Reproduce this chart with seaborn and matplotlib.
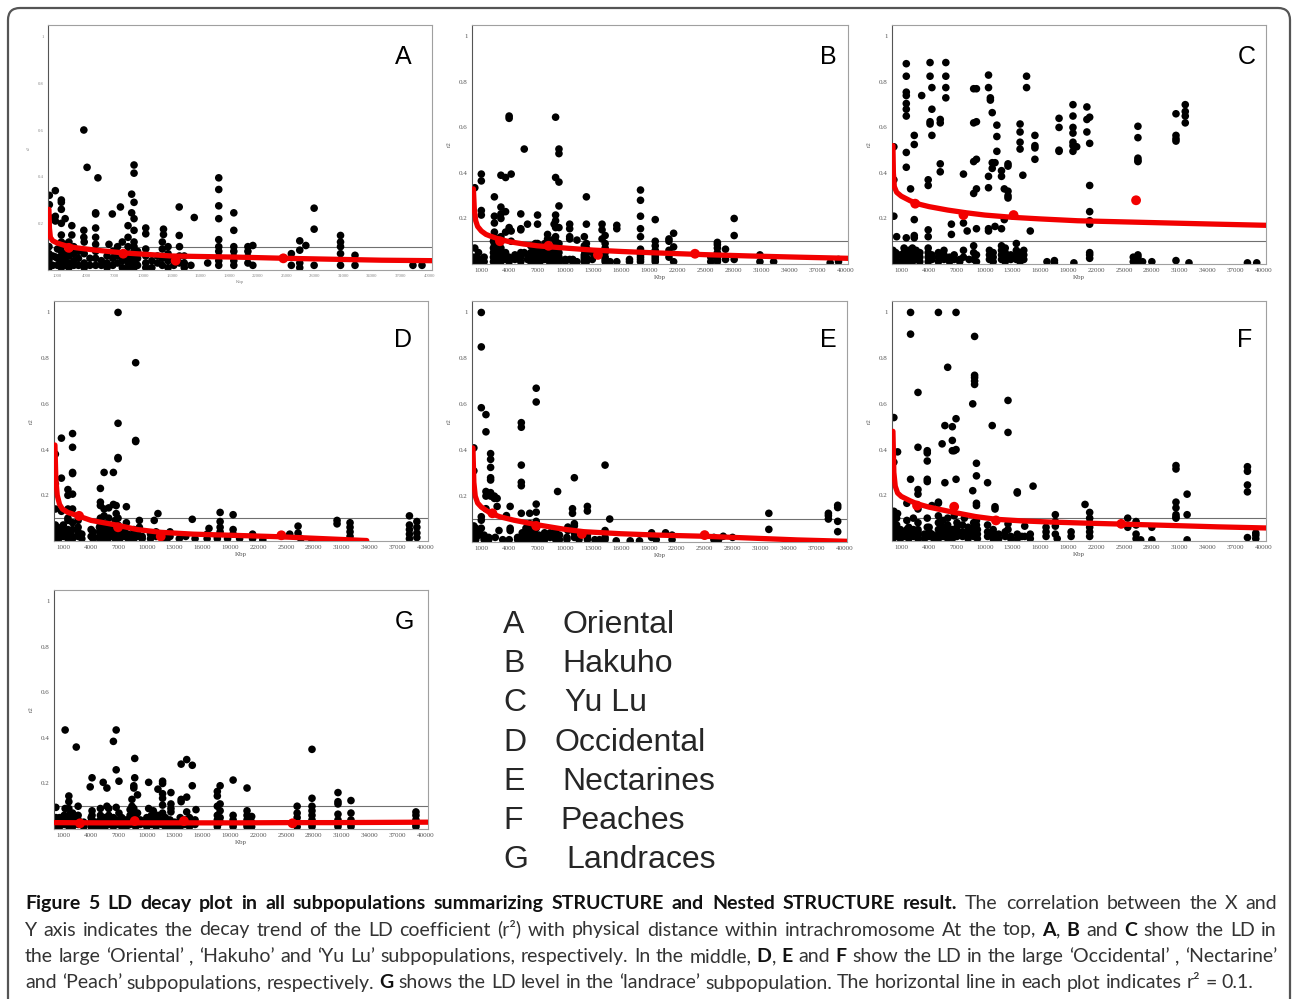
import pandas as pd
import matplotlib
matplotlib.use("Agg")
import matplotlib.pyplot as plt
import seaborn as sns
from matplotlib.ticker import MultipleLocator
from matplotlib.patches import FancyBboxPatch

# ---------------------------------------------------------------- data
panel_letters = ["A", "B", "C", "D", "E", "F", "G"]
subpop_names = ["Oriental", "Hakuho", "Yu Lu", "Occidental", "Nectarines", "Peaches", "Landraces"]
xtick_vals = [1000, 4000, 7000, 10000, 13000, 16000, 19000, 22000, 25000,
              28000, 31000, 34000, 37000, 40000]
ytick_vals = [0.2, 0.4, 0.6, 0.8, 1.0]
ytick_labels = ["0.2", "0.4", "0.6", "0.8", "1"]
r2_line = 0.1

# A  Oriental : x positions (Kbp) and the r2 values stacked at each position
a_x = [100, 140, 500, 770, 1000, 1400, 1800, 2200, 2500, 2700, 3200, 3760, 3800, 4100, 4400,
       5000, 5240, 5600, 6200, 6400, 6750, 6800, 7300, 7600, 7800, 8400, 8780, 9030, 9400,
       10260, 10900, 11500, 12000, 12120, 12600, 13200, 13770, 13800, 14300, 15000, 15350,
       16760, 17920, 19500, 20980, 21500, 25540, 26420, 27060, 27930, 30700, 32220, 38300, 39250]
a_y = [[0.1, 0.07, 0.04, 0.01], [0.32, 0.28, 0.225, 0.02], [0.06, 0.02], [0.34, 0.23, 0.21, 0.056],
       [0.09, 0.05, 0.02], [0.3, 0.29, 0.26, 0.2, 0.15, 0.12, 0.1, 0.08, 0.06, 0.04, 0.02, 0.01],
       [0.22, 0.11, 0.07, 0.04, 0.02], [0.12, 0.09, 0.06, 0.03, 0.01], [0.19, 0.15],
       [0.1, 0.07, 0.04, 0.02], [0.08, 0.05, 0.02], [0.6, 0.17, 0.14], [0.12, 0.07, 0.03, 0.01],
       [0.44], [0.05, 0.02], [0.245, 0.24, 0.18, 0.14, 0.11, 0.08, 0.05, 0.02], [0.395],
       [0.04, 0.02], [0.06, 0.03, 0.01], [0.11], [0.24], [0.08, 0.05, 0.02], [0.1, 0.06, 0.03],
       [0.27], [0.12, 0.07, 0.04, 0.01], [0.19, 0.14, 0.1, 0.07, 0.05, 0.03, 0.01], [0.325, 0.245],
       [0.45, 0.415, 0.29, 0.22, 0.17, 0.12, 0.1, 0.08, 0.06, 0.04, 0.02, 0.01], [0.08, 0.05, 0.02],
       [0.18, 0.155, 0.09, 0.06, 0.03, 0.01], [0.04, 0.01], [0.06, 0.03], [0.12, 0.09, 0.05, 0.02],
       [0.175, 0.152], [0.1, 0.07, 0.04, 0.01], [0.05, 0.02], [0.27, 0.148], [0.1, 0.06, 0.03],
       [0.06, 0.03, 0.01], [0.02], [0.225], [0.03],
       [0.395, 0.345, 0.275, 0.22, 0.13, 0.1, 0.08, 0.056, 0.04, 0.02],
       [0.245, 0.17, 0.1, 0.08, 0.056, 0.04, 0.02], [0.1, 0.08, 0.056, 0.03], [0.105, 0.02],
       [0.07, 0.02], [0.125, 0.085, 0.03, 0.01], [0.105], [0.265, 0.175, 0.02],
       [0.148, 0.12, 0.1, 0.07, 0.02], [0.063, 0.02], [0.02], [0.02]]
a_fit_x = [100, 150, 250, 500, 1000, 2000, 3000, 5000, 8000, 13000, 20000, 25000, 30000, 35000, 40300]
a_fit_y = [0.26, 0.18, 0.14, 0.125, 0.115, 0.102, 0.095, 0.085, 0.073, 0.06, 0.055, 0.05, 0.046, 0.042, 0.04]
a_mean_x = [2180, 7900, 13400, 24700]
a_mean_y = [0.095, 0.07, 0.04, 0.05]

# B  Hakuho
b_x = [200, 300, 700, 1000, 1300, 2300, 2400, 2700, 3100, 3600, 3980, 4200, 4600, 5230, 5600,
       5950, 6300, 6800, 7025, 7300, 7800, 8100, 8300, 8800, 8960, 9320, 10000, 10470, 10800,
       11250, 12040, 12260, 12900, 13940, 14270, 14800, 15520, 16880, 18060, 19640, 21110,
       21610, 25590, 26300, 27170, 28100, 30860, 32330, 38390, 39280]
b_y = [[0.03, 0.01], [0.335, 0.07, 0.01], [0.05, 0.02, 0.01], [0.395, 0.365, 0.235, 0.215, 0.02, 0.01],
       [0.03, 0.01], [0.1, 0.07, 0.05, 0.03, 0.01],
       [0.295, 0.21, 0.18, 0.14, 0.12, 0.09, 0.08, 0.06, 0.04, 0.02], [0.11, 0.08, 0.06, 0.04, 0.02, 0.01],
       [0.39, 0.25, 0.22, 0.2, 0.12, 0.1, 0.07, 0.05, 0.03, 0.01], [0.38, 0.23, 0.14, 0.05, 0.02],
       [0.65, 0.64, 0.16, 0.15, 0.03, 0.02, 0.01], [0.395, 0.145, 0.1], [0.04, 0.02],
       [0.22, 0.155, 0.15, 0.05, 0.03, 0.01], [0.505, 0.05], [0.175, 0.04, 0.02], [0.08, 0.05, 0.03, 0.01],
       [0.09, 0.06, 0.04, 0.02, 0.01], [0.215, 0.175, 0.09, 0.06, 0.04, 0.02], [0.07, 0.05, 0.03, 0.01],
       [0.09, 0.06, 0.04, 0.02], [0.13, 0.11, 0.09, 0.075, 0.06], [0.05, 0.03, 0.01],
       [0.175, 0.11, 0.08, 0.06, 0.04, 0.02, 0.01], [0.645, 0.38, 0.215, 0.19, 0.16, 0.12, 0.1, 0.08, 0.05, 0.02],
       [0.505, 0.485, 0.36, 0.255, 0.16, 0.09, 0.07, 0.05, 0.03, 0.01], [0.02, 0.01],
       [0.175, 0.155, 0.12, 0.11, 0.02], [0.02, 0.01], [0.105, 0.01], [0.12, 0.08, 0.06, 0.04, 0.03, 0.02, 0.01],
       [0.295, 0.175, 0.09, 0.07, 0.05, 0.03, 0.01], [0.05, 0.02], [0.175, 0.15, 0.11],
       [0.125, 0.09, 0.07, 0.05, 0.03, 0.02, 0.01], [0.01], [0.17, 0.155, 0.01], [0.02, 0.01],
       [0.325, 0.28, 0.21, 0.155, 0.12, 0.065, 0.05, 0.04, 0.03, 0.02, 0.01],
       [0.195, 0.1, 0.08, 0.06, 0.04, 0.03, 0.02, 0.01], [0.11, 0.1, 0.06, 0.03], [0.135, 0.075, 0.01],
       [0.03, 0.01], [0.095, 0.085, 0.07, 0.05, 0.04, 0.03, 0.02, 0.01], [0.065, 0.02], [0.2, 0.125, 0.02],
       [0.04, 0.01], [0.01], [0.005], [0.02, 0.01]]
b_fit_x = [150, 250, 400, 600, 1000, 1500, 2000, 3000, 4000, 5500, 7000, 10000, 13000, 16000,
           19000, 25000, 30000, 35000, 40300]
b_fit_y = [0.33, 0.24, 0.19, 0.165, 0.145, 0.13, 0.122, 0.108, 0.098, 0.088, 0.08, 0.07, 0.061,
           0.055, 0.05, 0.041, 0.035, 0.03, 0.025]
b_mean_x = [3000, 8200, 13500, 23900]
b_mean_y = [0.1, 0.08, 0.04, 0.045]

# C  Yu Lu
c_x = [100, 200, 400, 500, 900, 1300, 1540, 1800, 2000, 2200, 2400, 2600, 3000, 3200, 3900, 4100,
       4300, 5000, 5200, 5600, 5800, 6200, 6400, 6700, 7300, 7700, 8100, 8300, 8800, 9100, 10400,
       10500, 10600, 10800, 10900, 11100, 11300, 11800, 12100, 12200, 12500, 12800, 13400, 13800,
       14100, 14200, 14500, 14900, 15400, 16700, 17500, 18000, 19500, 19600, 19900, 21000, 21300,
       26000, 26500, 27000, 28000, 30600, 31600, 32000, 38300, 39300]
c_y = [[0.06, 0.04, 0.02], [0.515, 0.37, 0.21], [0.05, 0.03, 0.01], [0.12], [0.04, 0.01],
       [0.07, 0.05, 0.03, 0.01], [0.88, 0.825, 0.755, 0.74, 0.705, 0.68, 0.65, 0.49, 0.425, 0.115],
       [0.06, 0.04, 0.02, 0.01], [0.33], [0.07, 0.05, 0.03, 0.01], [0.565, 0.525, 0.195, 0.125, 0.115],
       [0.06, 0.04, 0.02], [0.05, 0.03, 0.01], [0.74], [0.37, 0.345, 0.15, 0.12, 0.07, 0.05, 0.03, 0.01],
       [0.885, 0.825, 0.625, 0.615], [0.775, 0.68, 0.565, 0.04, 0.02], [0.05, 0.03, 0.01],
       [0.635, 0.62, 0.44, 0.405], [0.06, 0.04, 0.02], [0.885, 0.825, 0.775, 0.73], [0.03, 0.01],
       [0.175, 0.13], [0.04, 0.02], [0.02, 0.01], [0.395, 0.18, 0.06, 0.03], [0.145], [0.02],
       [0.77, 0.62, 0.45, 0.31, 0.08, 0.05, 0.02], [0.77, 0.625, 0.46, 0.33, 0.155, 0.04, 0.01],
       [0.83, 0.775, 0.385, 0.335, 0.155, 0.145], [0.06, 0.04, 0.02], [0.73, 0.72], [0.665, 0.445, 0.42],
       [0.05, 0.03, 0.01], [0.445, 0.165], [0.61, 0.56, 0.495], [0.41, 0.385, 0.155, 0.08, 0.06, 0.04, 0.02],
       [0.33, 0.195], [0.07, 0.05, 0.03, 0.01], [0.44, 0.43, 0.32, 0.3, 0.29], [0.04, 0.02],
       [0.09, 0.06, 0.04, 0.02], [0.615, 0.58, 0.535, 0.505, 0.05, 0.03, 0.01], [0.39], [0.06, 0.04, 0.02],
       [0.825, 0.775], [0.145], [0.565, 0.52, 0.51, 0.46], [0.01], [0.015, 0.005], [0.64, 0.6, 0.5, 0.495],
       [0.7, 0.65, 0.6, 0.575, 0.535, 0.52, 0.495], [0.005], [0.515], [0.69, 0.635, 0.58],
       [0.645, 0.53, 0.345, 0.23, 0.19, 0.175, 0.05, 0.04, 0.025], [0.03, 0.01],
       [0.605, 0.555, 0.465, 0.455, 0.45, 0.04, 0.03, 0.01], [0.01], [0.01], [0.66, 0.565, 0.55, 0.54, 0.015],
       [0.7, 0.67, 0.65, 0.62], [0.005], [0.005], [0.005]]
c_fit_x = [100, 150, 250, 500, 1000, 2000, 3000, 4000, 6000, 8000, 10000, 13000, 16000, 20000,
           25000, 30000, 35000, 40300]
c_fit_y = [0.52, 0.4, 0.34, 0.315, 0.298, 0.277, 0.262, 0.252, 0.237, 0.225, 0.215, 0.205, 0.198,
           0.19, 0.185, 0.18, 0.175, 0.17]
c_mean_x = [2500, 7700, 13100, 26300]
c_mean_y = [0.265, 0.215, 0.215, 0.28]

# D  Occidental
d_x = [100, 150, 500, 800, 1000, 1500, 2000, 2600, 3000, 4000, 4200, 4900, 5000, 5300, 5400, 5800,
       5900, 6200, 6400, 6600, 6700, 6900, 7100, 7600, 7800, 8000, 8600, 8800, 9000, 9200, 9500,
       10400, 10800, 11000, 11200, 11700, 12200, 12500, 13500, 14200, 14900, 15200, 16500, 16700,
       17600, 17900, 18700, 19300, 20000, 21400, 22500, 25400, 26300, 26600, 27800, 30500, 31900,
       38300, 39100]
d_y = [[0.06, 0.04, 0.02, 0.01], [0.38, 0.25, 0.14, 0.07], [0.05, 0.03, 0.01], [0.45, 0.275, 0.13, 0.06],
       [0.07, 0.04, 0.02], [0.225, 0.2, 0.14, 0.1, 0.09, 0.05, 0.03, 0.01],
       [0.47, 0.41, 0.3, 0.295, 0.205, 0.14, 0.08, 0.05, 0.02, 0.01], [0.09, 0.06, 0.04, 0.02], [0.03, 0.01],
       [0.05, 0.02], [0.04, 0.02, 0.01], [0.06, 0.04, 0.02, 0.01], [0.23, 0.17, 0.155, 0.1, 0.07],
       [0.08, 0.05, 0.03, 0.01], [0.3, 0.14, 0.11, 0.06], [0.07, 0.05, 0.03, 0.02, 0.01], [0.145, 0.1],
       [0.06, 0.04, 0.02], [0.3, 0.16], [0.09, 0.06, 0.04, 0.02, 0.01], [0.155, 0.12],
       [1.0, 0.515, 0.365, 0.36, 0.1, 0.07, 0.03], [0.05, 0.03, 0.01], [0.04, 0.02], [0.15, 0.08],
       [0.03, 0.01], [0.05, 0.03, 0.01], [0.78, 0.44, 0.435], [0.04, 0.02], [0.09, 0.06], [0.02, 0.01],
       [0.03, 0.01], [0.09], [0.04, 0.02], [0.12], [0.01], [0.03, 0.01], [0.04, 0.02], [0.01], [0.02],
       [0.095], [0.01], [0.03, 0.01], [0.055], [0.02, 0.01], [0.125, 0.085, 0.06, 0.04], [0.01],
       [0.115, 0.05, 0.03], [0.01], [0.03, 0.01], [0.005], [0.03], [0.065, 0.035, 0.02], [0.01], [0.005],
       [0.09, 0.075], [0.08, 0.06, 0.04, 0.02], [0.11, 0.07, 0.05, 0.03, 0.01], [0.085, 0.06, 0.035, 0.015]]
d_fit_x = [100, 200, 350, 600, 900, 1500, 2600, 4000, 6700, 9000, 11500, 15000, 20000, 24000, 28000, 33700]
d_fit_y = [0.42, 0.27, 0.2, 0.16, 0.14, 0.125, 0.11, 0.09, 0.07, 0.05, 0.038, 0.03, 0.024, 0.019, 0.012, 0.002]
d_mean_x = [2700, 6900, 11500, 24500]
d_mean_y = [0.11, 0.06, 0.02, 0.025]

# E  Nectarines
e_x = [100, 200, 400, 800, 1000, 1300, 1500, 1800, 2000, 2400, 2500, 2700, 2900, 3300, 3700, 4000,
       4100, 4900, 5300, 5400, 5800, 6200, 6300, 6700, 6900, 7200, 7800, 8400, 8900, 9000, 9200,
       9400, 10200, 10300, 10800, 11000, 11500, 12400, 13200, 13700, 14300, 14800, 15500, 17000,
       18000, 19300, 19800, 20800, 21500, 26000, 26500, 27000, 28000, 31900, 38300, 39300]
e_y = [[0.03, 0.01], [0.41, 0.31, 0.07, 0.04, 0.02], [0.06, 0.04, 0.02, 0.01], [0.05, 0.03],
       [1.0, 0.85, 0.585, 0.11, 0.095, 0.06], [0.03, 0.01], [0.555, 0.48, 0.22, 0.2, 0.145, 0.02],
       [0.02, 0.01], [0.385, 0.36, 0.325, 0.28, 0.27, 0.215, 0.2], [0.2, 0.19], [0.02], [0.155, 0.19],
       [0.05], [0.01], [0.115], [0.01], [0.155, 0.06, 0.05], [0.02, 0.01],
       [0.52, 0.5, 0.335, 0.26, 0.245, 0.125, 0.02], [0.04, 0.02, 0.01], [0.06, 0.04, 0.02, 0.01],
       [0.125, 0.08], [0.05, 0.03, 0.01], [0.06, 0.04, 0.02, 0.01], [0.67, 0.61, 0.165, 0.13, 0.09, 0.06, 0.03],
       [0.03, 0.01], [0.04, 0.02, 0.01], [0.04, 0.02], [0.04, 0.02], [0.05, 0.03, 0.01], [0.22],
       [0.03, 0.01], [0.02, 0.01], [0.065, 0.05], [0.145, 0.125], [0.28, 0.08, 0.07, 0.04, 0.02], [0.01],
       [0.155, 0.135, 0.03, 0.02, 0.01], [0.01], [0.01], [0.335, 0.05, 0.02, 0.01], [0.1], [0.005],
       [0.005], [0.005], [0.04, 0.02], [0.01], [0.04], [0.03, 0.01], [0.02, 0.01], [0.01], [0.025],
       [0.02], [0.125, 0.055], [0.125, 0.115, 0.1], [0.16, 0.15, 0.09, 0.045]]
e_fit_x = [100, 200, 350, 600, 1000, 2000, 3000, 4500, 7000, 10000, 12000, 16000, 20000, 25000,
           30000, 35000, 40300]
e_fit_y = [0.41, 0.26, 0.2, 0.17, 0.152, 0.125, 0.11, 0.095, 0.075, 0.055, 0.045, 0.036, 0.03,
           0.025, 0.017, 0.009, 0.003]
e_mean_x = [2200, 6900, 11800, 25000]
e_mean_y = [0.125, 0.07, 0.035, 0.03]

# F  Peaches
f_x = [100, 200, 500, 600, 900, 1300, 1600, 1800, 2000, 2300, 2800, 3500, 3800, 4000, 4300, 4500,
       5000, 5400, 5500, 5700, 6000, 6500, 6700, 6900, 7000, 7600, 7800, 8200, 8700, 8800, 8900,
       9100, 9200, 10300, 10800, 10900, 11100, 11500, 12200, 12500, 12800, 13500, 14000, 14300,
       14900, 15200, 16600, 17600, 17800, 19300, 20800, 21300, 25400, 26300, 26800, 28000, 30600,
       31800, 38300, 39200]
f_y = [[0.1, 0.06, 0.03, 0.01], [0.54, 0.345, 0.13, 0.12, 0.08, 0.04, 0.02], [0.1, 0.07, 0.04, 0.02],
       [0.39, 0.12, 0.05], [0.05, 0.03, 0.01], [0.04, 0.02], [0.165, 0.09, 0.05], [0.06, 0.03, 0.01],
       [1.0, 0.905, 0.27], [0.1, 0.05, 0.02], [0.65, 0.41, 0.225, 0.205, 0.14, 0.08, 0.05, 0.04, 0.02, 0.01],
       [0.03, 0.01], [0.395, 0.385, 0.35, 0.27, 0.26, 0.1, 0.06, 0.02], [0.06, 0.04, 0.02], [0.155, 0.03],
       [0.02, 0.01], [1.0, 0.17, 0.165, 0.11, 0.08, 0.05, 0.03, 0.01], [0.425], [0.09, 0.06, 0.04, 0.02],
       [0.505, 0.255], [0.76, 0.1, 0.07, 0.05, 0.03, 0.01], [0.5, 0.44, 0.395, 0.05, 0.03, 0.01],
       [0.395, 0.11], [1.0, 0.535, 0.4, 0.27, 0.03], [0.08, 0.06, 0.04, 0.02], [0.07, 0.04, 0.02], [0.1],
       [0.06, 0.04, 0.02, 0.01], [0.6, 0.22], [0.08, 0.06, 0.04, 0.02], [0.895, 0.725, 0.715, 0.7, 0.685, 0.05],
       [0.34, 0.285, 0.165, 0.155, 0.09, 0.07], [0.05, 0.03, 0.01], [0.255, 0.07, 0.04, 0.02], [0.505],
       [0.05, 0.03, 0.01], [0.15, 0.14, 0.03], [0.03, 0.01], [0.04, 0.02], [0.615, 0.475, 0.075, 0.05],
       [0.02, 0.01], [0.215, 0.21, 0.03, 0.01], [0.02], [0.065, 0.02], [0.03, 0.01], [0.24],
       [0.06, 0.04, 0.02], [0.115, 0.085, 0.065, 0.03], [0.01], [0.04, 0.02], [0.16],
       [0.125, 0.1, 0.08, 0.06, 0.04, 0.02], [0.1, 0.06], [0.085, 0.07, 0.03, 0.01], [0.005], [0.06, 0.005],
       [0.33, 0.315, 0.17, 0.145, 0.115, 0.105, 0.1], [0.205, 0.115, 0.005], [0.325, 0.305, 0.245, 0.215, 0.015],
       [0.035, 0.025, 0.01]]
f_fit_x = [100, 200, 350, 600, 1000, 2000, 2700, 4000, 6700, 9000, 11200, 14000, 17000, 21000,
           24700, 30000, 35000, 40300]
f_fit_y = [0.48, 0.3, 0.24, 0.21, 0.195, 0.175, 0.163, 0.148, 0.125, 0.107, 0.095, 0.088, 0.083,
           0.078, 0.074, 0.068, 0.062, 0.057]
f_mean_x = [2700, 6700, 11200, 24700]
f_mean_y = [0.155, 0.15, 0.09, 0.075]

# G  Landraces
g_x = [100, 200, 600, 1100, 1200, 1600, 2000, 2400, 2600, 3200, 3900, 4000, 4100, 4500, 5000, 5300,
       5500, 5700, 5900, 6400, 6700, 6900, 7000, 7300, 7800, 8200, 8400, 8600, 8700, 8800, 9000,
       9300, 10000, 10200, 10500, 10700, 11000, 11200, 11600, 11700, 12000, 12500, 12600, 13000,
       13600, 13700, 14100, 14300, 14600, 14900, 15200, 15300, 17600, 17900, 19300, 20800, 21300,
       26200, 27800, 30600, 32000, 39000]
g_y = [[0.04, 0.02, 0.01], [0.095, 0.05], [0.05, 0.03, 0.01], [0.06, 0.04, 0.02], [0.435, 0.09],
       [0.145, 0.12, 0.09, 0.06, 0.05, 0.03, 0.01], [0.07, 0.05, 0.04, 0.02, 0.01], [0.36],
       [0.1, 0.06, 0.04, 0.02], [0.03, 0.01], [0.185], [0.05, 0.03, 0.02, 0.01], [0.225, 0.08, 0.06, 0.04],
       [0.03, 0.01], [0.09, 0.06, 0.04, 0.02, 0.01], [0.205, 0.05], [0.05, 0.03, 0.01], [0.18, 0.1],
       [0.09, 0.06, 0.04, 0.02], [0.385, 0.05, 0.03, 0.01], [0.435, 0.26, 0.095], [0.04, 0.02],
       [0.21, 0.07], [0.05, 0.03, 0.01], [0.04, 0.02, 0.01], [0.085, 0.06, 0.04, 0.02], [0.13, 0.1],
       [0.19, 0.18, 0.09], [0.31, 0.225, 0.065], [0.05, 0.03, 0.01], [0.15, 0.07], [0.04, 0.02],
       [0.05, 0.03, 0.01], [0.205, 0.09], [0.06, 0.04, 0.02], [0.08], [0.05, 0.03, 0.01], [0.175, 0.06],
       [0.04, 0.02], [0.21, 0.2, 0.155, 0.135, 0.105, 0.07], [0.05, 0.03, 0.01], [0.04, 0.02, 0.01],
       [0.16, 0.11, 0.09, 0.075], [0.03, 0.01], [0.05, 0.03, 0.01], [0.285, 0.13, 0.12], [0.04, 0.02],
       [0.305, 0.14, 0.075], [0.05, 0.03, 0.01], [0.28, 0.19], [0.04, 0.02], [0.085],
       [0.165, 0.145, 0.1, 0.06, 0.04, 0.02, 0.01], [0.19, 0.11, 0.08, 0.05, 0.03],
       [0.215, 0.06, 0.04, 0.02, 0.01], [0.18, 0.08, 0.06, 0.04, 0.02, 0.01], [0.055, 0.03, 0.01],
       [0.1, 0.07, 0.05, 0.03, 0.01], [0.35, 0.135, 0.1, 0.08, 0.06, 0.04, 0.02, 0.01],
       [0.16, 0.12, 0.11, 0.065, 0.04, 0.02, 0.01], [0.125, 0.07, 0.04, 0.02, 0.01],
       [0.075, 0.06, 0.04, 0.02, 0.01]]
g_fit_x = [100, 5000, 10000, 15000, 20000, 25000, 30000, 35000, 40300]
g_fit_y = [0.028, 0.027, 0.027, 0.027, 0.027, 0.028, 0.028, 0.029, 0.03]
g_mean_x = [2800, 8700, 14000, 25700]
g_mean_y = [0.025, 0.035, 0.035, 0.025]

caption_lines = [
    [("Figure 5 LD decay plot in all subpopulations summarizing STRUCTURE and Nested STRUCTURE result.", True),
     (" The correlation between the X and", False)],
    [("Y axis indicates the decay trend of the LD coefficient (r\u00b2) with physical distance within "
      "intrachromosome At the top, ", False), ("A", True), (", ", False), ("B", True), (" and ", False),
     ("C", True), (" show the LD in", False)],
    [("the large \u2018Oriental\u2019 , \u2018Hakuho\u2019 and \u2018Yu Lu\u2019 subpopulations, respectively. "
      "In the middle, ", False), ("D", True), (", ", False), ("E", True), (" and ", False), ("F", True),
     (" show the LD in the large \u2018Occidental\u2019 , \u2018Nectarine\u2019", False)],
    [("and \u2018Peach\u2019 subpopulations, respectively. ", False), ("G", True),
     (" shows the LD level in the \u2018landrace\u2019 subpopulation. The horizontal line in each plot "
      "indicates r\u00b2 = 0.1.", False)],
]

# ---------------------------------------------------------------- style
W, H = 1292, 999
sns.set_style("white")
plt.rcParams["font.family"] = ["Liberation Serif", "DejaVu Serif"]

RED = "#f20000"
SANS = "Liberation Sans"
CAP = "Lato"

fig = plt.figure(figsize=(W / 100, H / 100), dpi=100)


def long_form(xs, ys):
    rows = [(x, y) for x, col in zip(xs, ys) for y in col]
    return pd.DataFrame(rows, columns=["Kbp", "r2"])


def px_rect(l, r, t, b):
    return [l / W, 1 - b / H, (r - l) / W, (b - t) / H]


def draw_panel(rect, xs, ys, fx, fy, mx, my, tiny=False):
    ax = fig.add_axes(rect)
    pts = long_form(xs, ys)
    ax.axhline(r2_line, color="#707070", lw=0.8, zorder=1)
    sns.scatterplot(data=pts, x="Kbp", y="r2", color="black", s=30, edgecolor="none",
                    legend=False, ax=ax, zorder=2)
    sns.lineplot(x=fx, y=fy, color=RED, lw=3.8, sort=False, estimator=None, ax=ax, zorder=3)
    sns.scatterplot(x=mx, y=my, color=RED, s=50, edgecolor="none", legend=False, ax=ax, zorder=4)
    ax.set_xlim(0, 40300)
    ax.set_ylim(0, 1.05)
    ax.set_xticks(xtick_vals)
    ax.set_xticklabels([str(v) for v in xtick_vals])
    ax.set_yticks(ytick_vals)
    ax.set_yticklabels(ytick_labels)
    ax.yaxis.set_minor_locator(MultipleLocator(0.05))
    fs = 3.4 if tiny else 5
    col = "#8a8a8a" if tiny else "#555555"
    ax.tick_params(which="major", direction="in", length=3, width=0.6, color="#666666",
                   labelsize=fs, labelcolor=col, pad=3)
    ax.tick_params(which="minor", direction="in", length=1.8, width=0.5, color="#777777")
    ax.tick_params(axis="x", which="major", length=2)
    ax.set_xlabel("Kbp", fontsize=fs, color=col, labelpad=1)
    ax.set_ylabel("r2", fontsize=fs, color=col, labelpad=5)
    for side in ["top", "right", "bottom"]:
        ax.spines[side].set_color("#a0a0a0")
        ax.spines[side].set_linewidth(0.8)
    ax.spines["left"].set_color("#555555")
    ax.spines["left"].set_linewidth(0.8)
    return ax


panels = [
    (px_rect(48, 432, 25, 270), a_x, a_y, a_fit_x, a_fit_y, a_mean_x, a_mean_y, True, (403, 57)),
    (px_rect(472, 848, 25, 264), b_x, b_y, b_fit_x, b_fit_y, b_mean_x, b_mean_y, False, (828, 57)),
    (px_rect(892, 1266, 25, 264), c_x, c_y, c_fit_x, c_fit_y, c_mean_x, c_mean_y, False, (1247, 57)),
    (px_rect(54, 428, 301, 541), d_x, d_y, d_fit_x, d_fit_y, d_mean_x, d_mean_y, False, (403, 340)),
    (px_rect(472, 847, 301, 542), e_x, e_y, e_fit_x, e_fit_y, e_mean_x, e_mean_y, False, (828, 340)),
    (px_rect(892, 1266, 301, 541), f_x, f_y, f_fit_x, f_fit_y, f_mean_x, f_mean_y, False, (1245, 340)),
    (px_rect(54, 428, 590, 829), g_x, g_y, g_fit_x, g_fit_y, g_mean_x, g_mean_y, False, (404, 622)),
]

for letter, (rect, xs, ys, fx, fy, mx, my, tiny, lpos) in zip(panel_letters, panels):
    draw_panel(rect, xs, ys, fx, fy, mx, my, tiny)
    fig.text(lpos[0] / W, 1 - lpos[1] / H, letter, fontsize=18, family=SANS,
             ha="center", va="center", color="black")

# legend block of subpopulation names
name_x = [562, 562, 565, 555, 562, 560, 566]
for i, (letter, name) in enumerate(zip(panel_letters, subpop_names)):
    yy = 1 - (625 + i * 39.2) / H
    fig.text(503 / W, yy, letter, fontsize=23, family=SANS, ha="left", va="center")
    fig.text(name_x[i] / W, yy, name, fontsize=23, family=SANS, ha="left", va="center")

# caption, justified word by word
renderer = fig.canvas.get_renderer()
cap_fs = 14


def make_text(s, bold, x, y):
    return fig.text(x / W, 1 - y / H, s, fontsize=cap_fs, family=CAP,
                    fontweight="bold" if bold else "normal",
                    color="#111111" if bold else "#333333", ha="left", va="baseline")


def text_width(s, bold):
    t = make_text(s, bold, 0, 0)
    w = t.get_window_extent(renderer).width
    t.remove()
    return w


space_w = text_width("a a", False) - text_width("aa", False)
left, right = 25, 1277
baselines = [909, 935.5, 962, 988.5]

for li, segs in enumerate(caption_lines):
    words, cur = [], []
    for s, bold in segs:
        parts = s.split(" ")
        for k, p in enumerate(parts):
            if k > 0 and cur:
                words.append(cur)
                cur = []
            if p:
                cur.append((p, bold))
    if cur:
        words.append(cur)
    widths = [[text_width(p, b) for p, b in w] for w in words]
    total = sum(sum(w) for w in widths)
    if li < len(caption_lines) - 1:
        gap = (right - left - total) / (len(words) - 1)
    else:
        gap = space_w
    x = left
    for w, ws in zip(words, widths):
        for (p, b), pw in zip(w, ws):
            make_text(p, b, x, baselines[li])
            x += pw
        x += gap

# outer rounded frame
frame = FancyBboxPatch((0.08, -0.4), 12.82, 9.91 + 0.4,
                       boxstyle="round,pad=0,rounding_size=0.12",
                       transform=fig.dpi_scale_trans, fill=False, ec="#555555", lw=1.6)
fig.add_artist(frame)

fig.savefig("out.png", dpi=100, facecolor="white")
